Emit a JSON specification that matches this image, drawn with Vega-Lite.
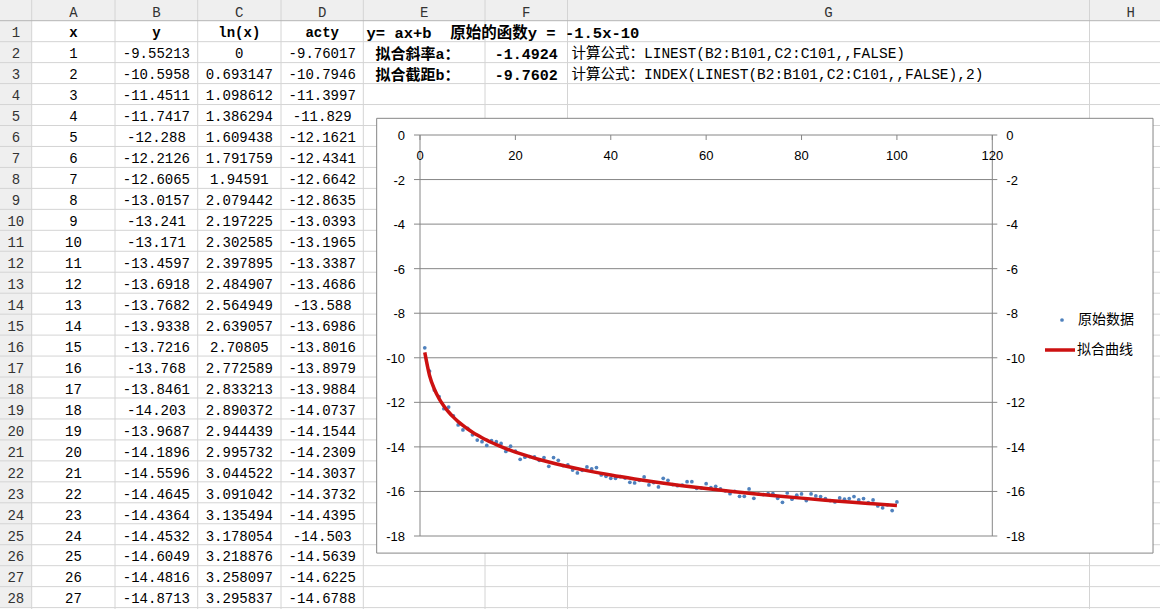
{
  "$schema": "https://vega.github.io/schema/vega-lite/v6.json",
  "width": 1160,
  "height": 609,
  "autosize": {"type": "none"},
  "padding": 0,
  "background": "white",
  "datasets": {
    "cols": [
      {"c": 0, "letter": ""}, {"c": 1, "letter": "A"}, {"c": 2, "letter": "B"}, {"c": 3, "letter": "C"},
      {"c": 4, "letter": "D"}, {"c": 5, "letter": "E"}, {"c": 6, "letter": "F"}, {"c": 7, "letter": "G"}, {"c": 8, "letter": "H"}
    ],
    "rows": [
      {"r": 1}, {"r": 2}, {"r": 3}, {"r": 4}, {"r": 5}, {"r": 6}, {"r": 7}, {"r": 8}, {"r": 9}, {"r": 10},
      {"r": 11}, {"r": 12}, {"r": 13}, {"r": 14}, {"r": 15}, {"r": 16}, {"r": 17}, {"r": 18}, {"r": 19}, {"r": 20},
      {"r": 21}, {"r": 22}, {"r": 23}, {"r": 24}, {"r": 25}, {"r": 26}, {"r": 27}, {"r": 28}
    ],
    "heads": [
      {"c": 1, "label": "x"}, {"c": 2, "label": "y"}, {"c": 3, "label": "ln(x)"}, {"c": 4, "label": "acty"}
    ],
    "table": [
      {"r": 2, "x": 1, "y": -9.55213, "lnx": 0, "acty": -9.76017},
      {"r": 3, "x": 2, "y": -10.5958, "lnx": 0.693147, "acty": -10.7946},
      {"r": 4, "x": 3, "y": -11.4511, "lnx": 1.098612, "acty": -11.3997},
      {"r": 5, "x": 4, "y": -11.7417, "lnx": 1.386294, "acty": -11.829},
      {"r": 6, "x": 5, "y": -12.288, "lnx": 1.609438, "acty": -12.1621},
      {"r": 7, "x": 6, "y": -12.2126, "lnx": 1.791759, "acty": -12.4341},
      {"r": 8, "x": 7, "y": -12.6065, "lnx": 1.94591, "acty": -12.6642},
      {"r": 9, "x": 8, "y": -13.0157, "lnx": 2.079442, "acty": -12.8635},
      {"r": 10, "x": 9, "y": -13.241, "lnx": 2.197225, "acty": -13.0393},
      {"r": 11, "x": 10, "y": -13.171, "lnx": 2.302585, "acty": -13.1965},
      {"r": 12, "x": 11, "y": -13.4597, "lnx": 2.397895, "acty": -13.3387},
      {"r": 13, "x": 12, "y": -13.6918, "lnx": 2.484907, "acty": -13.4686},
      {"r": 14, "x": 13, "y": -13.7682, "lnx": 2.564949, "acty": -13.588},
      {"r": 15, "x": 14, "y": -13.9338, "lnx": 2.639057, "acty": -13.6986},
      {"r": 16, "x": 15, "y": -13.7216, "lnx": 2.70805, "acty": -13.8016},
      {"r": 17, "x": 16, "y": -13.768, "lnx": 2.772589, "acty": -13.8979},
      {"r": 18, "x": 17, "y": -13.8461, "lnx": 2.833213, "acty": -13.9884},
      {"r": 19, "x": 18, "y": -14.203, "lnx": 2.890372, "acty": -14.0737},
      {"r": 20, "x": 19, "y": -13.9687, "lnx": 2.944439, "acty": -14.1544},
      {"r": 21, "x": 20, "y": -14.1896, "lnx": 2.995732, "acty": -14.2309},
      {"r": 22, "x": 21, "y": -14.5596, "lnx": 3.044522, "acty": -14.3037},
      {"r": 23, "x": 22, "y": -14.4645, "lnx": 3.091042, "acty": -14.3732},
      {"r": 24, "x": 23, "y": -14.4364, "lnx": 3.135494, "acty": -14.4395},
      {"r": 25, "x": 24, "y": -14.4532, "lnx": 3.178054, "acty": -14.503},
      {"r": 26, "x": 25, "y": -14.6049, "lnx": 3.218876, "acty": -14.5639},
      {"r": 27, "x": 26, "y": -14.4816, "lnx": 3.258097, "acty": -14.6225},
      {"r": 28, "x": 27, "y": -14.8713, "lnx": 3.295837, "acty": -14.6788}
    ],
    "note": [
      {"r": 1, "t": "y= ax+b\u00a0\u00a0原始的函数y = -1.5x-10"}
    ],
    "params": [
      {"r": 2, "label": "拟合斜率a：", "val": -1.4924, "formula": "计算公式：LINEST(B2:B101,C2:C101,,FALSE)"},
      {"r": 3, "label": "拟合截距b：", "val": -9.7602, "formula": "计算公式：INDEX(LINEST(B2:B101,C2:C101,,FALSE),2)"}
    ],
    "pts": [
      {"x": 1, "y": -9.55213}, {"x": 2, "y": -10.5958}, {"x": 3, "y": -11.4511}, {"x": 4, "y": -11.7417},
      {"x": 5, "y": -12.288}, {"x": 6, "y": -12.2126}, {"x": 7, "y": -12.6065}, {"x": 8, "y": -13.0157},
      {"x": 9, "y": -13.241}, {"x": 10, "y": -13.171}, {"x": 11, "y": -13.4597}, {"x": 12, "y": -13.6918},
      {"x": 13, "y": -13.7682}, {"x": 14, "y": -13.9338}, {"x": 15, "y": -13.7216}, {"x": 16, "y": -13.768},
      {"x": 17, "y": -13.8461}, {"x": 18, "y": -14.203}, {"x": 19, "y": -13.9687}, {"x": 20, "y": -14.1896},
      {"x": 21, "y": -14.5596}, {"x": 22, "y": -14.4645}, {"x": 23, "y": -14.4364}, {"x": 24, "y": -14.4532},
      {"x": 25, "y": -14.6049}, {"x": 26, "y": -14.4816}, {"x": 27, "y": -14.8713}, {"x": 28, "y": -14.48},
      {"x": 29, "y": -14.6}, {"x": 30, "y": -14.84}, {"x": 31, "y": -14.81}, {"x": 32, "y": -15.04},
      {"x": 33, "y": -15.17}, {"x": 34, "y": -15.05}, {"x": 35, "y": -14.9}, {"x": 36, "y": -14.99},
      {"x": 37, "y": -14.93}, {"x": 38, "y": -15.26}, {"x": 39, "y": -15.32}, {"x": 40, "y": -15.41},
      {"x": 41, "y": -15.41}, {"x": 42, "y": -15.34}, {"x": 43, "y": -15.4}, {"x": 44, "y": -15.59},
      {"x": 45, "y": -15.62}, {"x": 46, "y": -15.5}, {"x": 47, "y": -15.35}, {"x": 48, "y": -15.71},
      {"x": 49, "y": -15.6}, {"x": 50, "y": -15.8}, {"x": 51, "y": -15.41}, {"x": 52, "y": -15.5},
      {"x": 53, "y": -15.69}, {"x": 54, "y": -15.74}, {"x": 55, "y": -15.72}, {"x": 56, "y": -15.56},
      {"x": 57, "y": -15.56}, {"x": 58, "y": -15.86}, {"x": 59, "y": -15.85}, {"x": 60, "y": -15.65},
      {"x": 61, "y": -15.83}, {"x": 62, "y": -15.77}, {"x": 63, "y": -15.89}, {"x": 64, "y": -15.97},
      {"x": 65, "y": -16.1}, {"x": 66, "y": -16.0}, {"x": 67, "y": -16.22}, {"x": 68, "y": -16.22},
      {"x": 69, "y": -15.89}, {"x": 70, "y": -16.31}, {"x": 71, "y": -16.12}, {"x": 72, "y": -16.14},
      {"x": 73, "y": -16.1}, {"x": 74, "y": -16.1}, {"x": 75, "y": -16.31}, {"x": 76, "y": -16.49},
      {"x": 77, "y": -16.07}, {"x": 78, "y": -16.35}, {"x": 79, "y": -16.17}, {"x": 80, "y": -16.11},
      {"x": 81, "y": -16.41}, {"x": 82, "y": -16.11}, {"x": 83, "y": -16.2}, {"x": 84, "y": -16.23},
      {"x": 85, "y": -16.32}, {"x": 86, "y": -16.41}, {"x": 87, "y": -16.47}, {"x": 88, "y": -16.29},
      {"x": 89, "y": -16.35}, {"x": 90, "y": -16.32}, {"x": 91, "y": -16.23}, {"x": 92, "y": -16.38},
      {"x": 93, "y": -16.32}, {"x": 94, "y": -16.5}, {"x": 95, "y": -16.38}, {"x": 96, "y": -16.65},
      {"x": 97, "y": -16.74}, {"x": 98, "y": -16.6}, {"x": 99, "y": -16.86}, {"x": 100, "y": -16.47}
    ],
    "fit": [
      {"x": 1, "acty": -9.76017}, {"x": 2, "acty": -10.7946}, {"x": 3, "acty": -11.3997}, {"x": 4, "acty": -11.829},
      {"x": 5, "acty": -12.1621}, {"x": 6, "acty": -12.4341}, {"x": 7, "acty": -12.6642}, {"x": 8, "acty": -12.8635},
      {"x": 9, "acty": -13.0393}, {"x": 10, "acty": -13.1965}, {"x": 11, "acty": -13.3387}, {"x": 12, "acty": -13.4686},
      {"x": 13, "acty": -13.588}, {"x": 14, "acty": -13.6986}, {"x": 15, "acty": -13.8016}, {"x": 16, "acty": -13.8979},
      {"x": 17, "acty": -13.9884}, {"x": 18, "acty": -14.0737}, {"x": 19, "acty": -14.1544}, {"x": 20, "acty": -14.2309},
      {"x": 21, "acty": -14.3037}, {"x": 22, "acty": -14.3732}, {"x": 23, "acty": -14.4395}, {"x": 24, "acty": -14.503},
      {"x": 25, "acty": -14.5639}, {"x": 26, "acty": -14.6225}, {"x": 27, "acty": -14.6788}, {"x": 30, "acty": -14.836},
      {"x": 35, "acty": -15.066}, {"x": 40, "acty": -15.266}, {"x": 45, "acty": -15.441}, {"x": 50, "acty": -15.599},
      {"x": 55, "acty": -15.741}, {"x": 60, "acty": -15.871}, {"x": 65, "acty": -15.99}, {"x": 70, "acty": -16.101},
      {"x": 75, "acty": -16.204}, {"x": 80, "acty": -16.3}, {"x": 85, "acty": -16.391}, {"x": 90, "acty": -16.476},
      {"x": 95, "acty": -16.556}, {"x": 100, "acty": -16.633}
    ],
    "xticks": [{"v": 0}, {"v": 20}, {"v": 40}, {"v": 60}, {"v": 80}, {"v": 100}, {"v": 120}],
    "yticks": [{"v": 0}, {"v": -2}, {"v": -4}, {"v": -6}, {"v": -8}, {"v": -10}, {"v": -12}, {"v": -14}, {"v": -16}, {"v": -18}]
  },
  "resolve": {"scale": {"x": "independent", "y": "independent"}},
  "layer": [
    {
      "layer": [
        {
          "data": {"values": [{}]},
          "mark": {"type": "rect", "fill": "#EFEFEF"},
          "encoding": {
            "x": {"datum": -1, "scale": {"domain": [-1, 0, 1, 2, 3, 4, 5, 6, 7, 8], "range": [0, 31.7, 115, 197.7, 281, 363.3, 485, 567.5, 1089.5, 1172], "nice": false}},
            "x2": {"datum": 8},
            "y": {"datum": -1, "scale": {"domain": [0, 28], "range": [20.7, 607.6], "nice": false, "zero": false}},
            "y2": {"datum": 0}
          }
        },
        {
          "data": {"values": [{}]},
          "mark": {"type": "rect", "fill": "#EFEFEF"},
          "encoding": {"x": {"datum": -1}, "x2": {"datum": 0}, "y": {"datum": -1}, "y2": {"datum": 28}}
        },
        {
          "data": {"name": "cols"},
          "mark": {"type": "rule", "color": "#D4D4D4", "strokeWidth": 1},
          "encoding": {"x": {"field": "c", "type": "quantitative"}}
        },
        {
          "data": {"name": "rows"},
          "mark": {"type": "rule", "color": "#D4D4D4", "strokeWidth": 1},
          "encoding": {"y": {"field": "r", "type": "quantitative"}}
        },
        {
          "data": {"values": [{}]},
          "mark": {"type": "rule", "color": "#B5B5B5", "strokeWidth": 1},
          "encoding": {"y": {"datum": 0}}
        },
        {
          "data": {"values": [{}]},
          "mark": {"type": "rect", "fill": "white", "stroke": "#868686", "strokeWidth": 1},
          "encoding": {"x": {"datum": 4.11}, "x2": {"datum": 7.77}, "y": {"datum": 4.657}, "y2": {"datum": 25.4}}
        }
      ]
    },
    {
      "layer": [
        {
          "data": {"name": "cols"},
          "mark": {"type": "text", "font": "Liberation Mono", "fontSize": 14, "color": "#333333", "baseline": "middle"},
          "encoding": {
            "x": {"field": "c", "type": "quantitative", "scale": {"domain": [0, 1, 2, 3, 4, 5, 6, 7, 8], "range": [15.85, 73.4, 156.4, 239.3, 322.2, 424.2, 526.3, 828.5, 1130.8], "nice": false}},
            "y": {"datum": 0, "scale": {"domain": [0, 28], "range": [12.5, 599.4], "nice": false, "zero": false}},
            "text": {"field": "letter", "type": "nominal"}
          }
        },
        {
          "data": {"name": "rows"},
          "mark": {"type": "text", "font": "Liberation Mono", "fontSize": 14, "color": "#333333", "baseline": "middle"},
          "encoding": {"x": {"datum": 0}, "y": {"field": "r", "type": "quantitative"}, "text": {"field": "r", "type": "nominal"}}
        },
        {
          "data": {"name": "heads"},
          "mark": {"type": "text", "font": "Liberation Mono", "fontSize": 14, "fontWeight": "bold", "color": "#000000", "baseline": "middle"},
          "encoding": {"x": {"field": "c", "type": "quantitative"}, "y": {"datum": 1}, "text": {"field": "label", "type": "nominal"}}
        },
        {
          "data": {"name": "table"},
          "mark": {"type": "text", "font": "Liberation Mono", "fontSize": 14, "color": "#000000", "baseline": "middle"},
          "encoding": {"x": {"datum": 1}, "y": {"field": "r", "type": "quantitative"}, "text": {"field": "x", "type": "nominal"}}
        },
        {
          "data": {"name": "table"},
          "mark": {"type": "text", "font": "Liberation Mono", "fontSize": 14, "color": "#000000", "baseline": "middle"},
          "encoding": {"x": {"datum": 2}, "y": {"field": "r", "type": "quantitative"}, "text": {"field": "y", "type": "nominal"}}
        },
        {
          "data": {"name": "table"},
          "mark": {"type": "text", "font": "Liberation Mono", "fontSize": 14, "color": "#000000", "baseline": "middle"},
          "encoding": {"x": {"datum": 3}, "y": {"field": "r", "type": "quantitative"}, "text": {"field": "lnx", "type": "nominal"}}
        },
        {
          "data": {"name": "table"},
          "mark": {"type": "text", "font": "Liberation Mono", "fontSize": 14, "color": "#000000", "baseline": "middle"},
          "encoding": {"x": {"datum": 4}, "y": {"field": "r", "type": "quantitative"}, "text": {"field": "acty", "type": "nominal"}}
        },
        {
          "data": {"name": "params"},
          "mark": {"type": "text", "font": "Liberation Mono", "fontSize": 15, "fontWeight": "bold", "color": "#000000", "baseline": "middle"},
          "encoding": {"x": {"datum": 6}, "y": {"field": "r", "type": "quantitative"}, "text": {"field": "val", "type": "nominal"}}
        }
      ]
    },
    {
      "layer": [
        {
          "data": {"name": "note"},
          "mark": {"type": "text", "font": "Liberation Mono, Noto Sans CJK SC", "fontSize": 15.5, "fontWeight": "bold", "color": "#000000", "baseline": "middle", "align": "left"},
          "encoding": {
            "x": {"datum": 5, "scale": {"domain": [5, 7], "range": [366.5, 571.5], "nice": false, "zero": false}},
            "y": {"field": "r", "type": "quantitative", "scale": {"domain": [0, 28], "range": [12.5, 599.4], "nice": false, "zero": false}},
            "text": {"field": "t", "type": "nominal"}
          }
        },
        {
          "data": {"name": "params"},
          "mark": {"type": "text", "font": "Liberation Mono, Noto Sans CJK SC", "fontSize": 15, "fontWeight": "bold", "color": "#000000", "baseline": "middle", "align": "left", "dx": 9},
          "encoding": {"x": {"datum": 5}, "y": {"field": "r", "type": "quantitative"}, "text": {"field": "label", "type": "nominal"}}
        },
        {
          "data": {"name": "params"},
          "mark": {"type": "text", "font": "Liberation Mono, Noto Sans CJK SC", "fontSize": 14.5, "color": "#000000", "baseline": "middle", "align": "left"},
          "encoding": {"x": {"datum": 7}, "y": {"field": "r", "type": "quantitative"}, "text": {"field": "formula", "type": "nominal"}}
        }
      ]
    },
    {
      "layer": [
        {
          "data": {"name": "yticks"},
          "mark": {"type": "rule", "color": "#868686", "strokeWidth": 1, "xOffset": -6, "x2Offset": 5},
          "encoding": {
            "x": {"datum": 0, "scale": {"domain": [0, 120], "range": [420, 992.3], "nice": false, "zero": false}},
            "x2": {"datum": 120},
            "y": {"field": "v", "type": "quantitative", "scale": {"domain": [-18, 0], "range": [536, 135], "nice": false, "zero": false}}
          }
        },
        {
          "data": {"name": "xticks"},
          "transform": [{"filter": "datum.v == 0 || datum.v == 120"}],
          "mark": {"type": "rule", "color": "#868686", "strokeWidth": 1},
          "encoding": {"x": {"field": "v", "type": "quantitative"}, "y": {"datum": 0}, "y2": {"datum": -18}}
        },
        {
          "data": {"name": "xticks"},
          "mark": {"type": "rule", "color": "#868686", "strokeWidth": 1, "y2Offset": 5},
          "encoding": {"x": {"field": "v", "type": "quantitative"}, "y": {"datum": 0}, "y2": {"datum": 0}}
        },
        {
          "data": {"name": "xticks"},
          "mark": {"type": "text", "font": "Liberation Sans", "fontSize": 13, "color": "#000000", "baseline": "middle", "dy": 21},
          "encoding": {"x": {"field": "v", "type": "quantitative"}, "y": {"datum": 0}, "text": {"field": "v", "type": "nominal"}}
        },
        {
          "data": {"name": "yticks"},
          "mark": {"type": "text", "font": "Liberation Sans", "fontSize": 13, "color": "#000000", "baseline": "middle", "align": "right", "dx": -15, "dy": 1},
          "encoding": {"x": {"datum": 0}, "y": {"field": "v", "type": "quantitative"}, "text": {"field": "v", "type": "nominal"}}
        },
        {
          "data": {"name": "yticks"},
          "mark": {"type": "text", "font": "Liberation Sans", "fontSize": 13, "color": "#000000", "baseline": "middle", "align": "left", "dx": 14, "dy": 1},
          "encoding": {"x": {"datum": 120}, "y": {"field": "v", "type": "quantitative"}, "text": {"field": "v", "type": "nominal"}}
        },
        {
          "data": {"name": "pts"},
          "mark": {"type": "circle", "size": 14, "opacity": 1},
          "encoding": {
            "x": {"field": "x", "type": "quantitative"},
            "y": {"field": "y", "type": "quantitative"},
            "fill": {
              "datum": "原始数据",
              "type": "nominal",
              "scale": {"range": ["#4F81BD"]},
              "legend": {
                "orient": "none", "legendX": 1055, "legendY": 313, "title": null, "padding": 0,
                "symbolType": "circle", "symbolSize": 14, "symbolStrokeWidth": 0,
                "labelFont": "Noto Sans CJK SC", "labelFontSize": 14, "labelColor": "#000000", "labelOffset": 9
              }
            }
          }
        },
        {
          "data": {"name": "fit"},
          "mark": {"type": "line", "strokeWidth": 3.5, "interpolate": "monotone"},
          "encoding": {
            "x": {"field": "x", "type": "quantitative"},
            "y": {"field": "acty", "type": "quantitative"},
            "stroke": {
              "datum": "拟合曲线",
              "type": "nominal",
              "scale": {"range": ["#CC1111"]},
              "legend": {
                "orient": "none", "legendX": 1043, "legendY": 333, "title": null, "padding": 0,
                "symbolType": "stroke", "symbolSize": 900, "symbolStrokeWidth": 3.5,
                "labelFont": "Noto Sans CJK SC", "labelFontSize": 14, "labelColor": "#000000", "labelOffset": 0
              }
            }
          }
        }
      ]
    }
  ],
  "config": {
    "view": {"stroke": null},
    "axis": {"disable": true}
  }
}
